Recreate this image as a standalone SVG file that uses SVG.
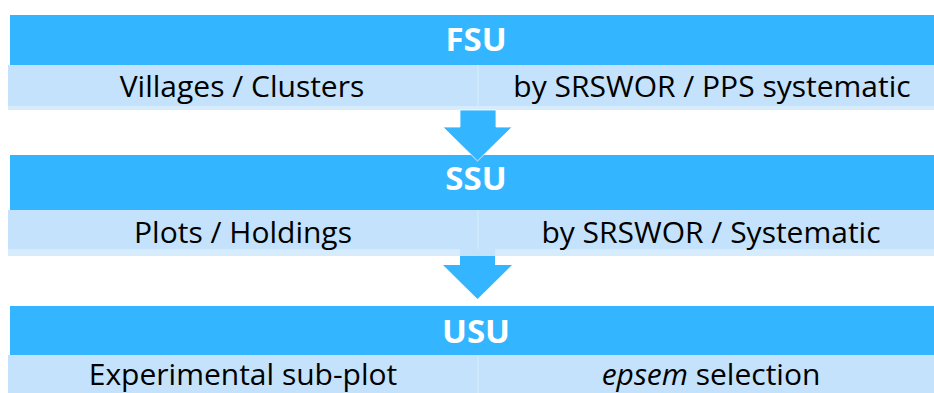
<svg xmlns="http://www.w3.org/2000/svg" width="934" height="393" viewBox="0 0 934 393">
<style>
.bar{fill:#33b5ff}
.band{fill:#c4e2fb}
.strip{fill:#d6ecfd}
.div{fill:#cde7fc}
.title{font-family:"Open Sans","Liberation Sans",sans-serif;font-weight:bold;font-size:33px;fill:#ffffff;text-anchor:middle}
.lbl{font-family:"Open Sans","Liberation Sans",sans-serif;font-size:30px;fill:#000000;text-anchor:middle}
.arrow{fill:#33b5ff}
</style>
<rect width="934" height="393" fill="#ffffff"/>
<g id="fsu">
<rect class="bar" x="10" y="15" width="924" height="50"/>
<rect class="band" x="8" y="65" width="926" height="45"/>
<rect class="strip" x="8" y="106" width="926" height="4"/>
<rect class="div" x="477" y="65" width="2" height="41"/>
<text class="title" x="476" y="51">FSU</text>
<text class="lbl" x="242" y="97">Villages / Clusters</text>
<text class="lbl" x="712" y="97">by SRSWOR / PPS systematic</text>
</g>
<g id="ssu">
<rect class="bar" x="10" y="155" width="924" height="55"/>
<rect class="band" x="8" y="210" width="926" height="46"/>
<rect class="strip" x="8" y="249" width="926" height="7"/>
<rect class="div" x="477" y="210" width="2" height="39"/>
<text class="title" x="476" y="190">SSU</text>
<text class="lbl" x="243" y="243">Plots / Holdings</text>
<text class="lbl" x="711" y="243">by SRSWOR / Systematic</text>
</g>
<g id="usu">
<rect class="bar" x="10" y="306" width="924" height="49"/>
<rect class="band" x="8" y="355" width="926" height="38"/>
<rect class="div" x="477" y="355" width="2" height="38"/>
<text class="title" x="476" y="343">USU</text>
<text class="lbl" x="243" y="385">Experimental sub-plot</text>
<text class="lbl" x="711" y="385"><tspan font-style="italic">epsem</tspan> selection</text>
</g>
<g id="connectors">
<rect class="band" x="460" y="249" width="35" height="7"/>
<polygon class="arrow" points="460,110 496,110 496,127 512,127 477.5,161 443,127 460,127" stroke="#ffffff" stroke-width="0.8" stroke-linejoin="miter"/>
<polygon class="arrow" points="460,256 495,256 495,265 512,265 477.5,299 443,265 460,265"/>
</g>
</svg>
